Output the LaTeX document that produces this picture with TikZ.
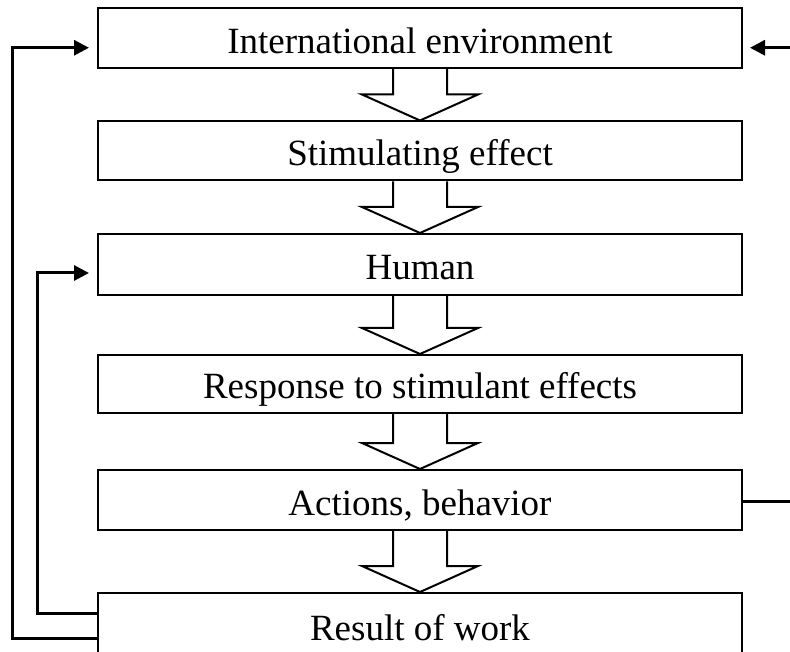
\documentclass[tikz,border=0pt]{standalone}
\usepackage{fontspec}
\setmainfont{Liberation Serif}
\usetikzlibrary{arrows.meta,calc}
\newcommand\myharrow[2]{%
  \draw[hollow] let \p1=(#1.south), \p2=(#2.north) in
  ({\x1-27pt},\y1) -- ({\x1-27pt},{\y2+26pt}) -- ({\x1-58pt},{\y2+26pt}) --
  (\x1,\y2) -- ({\x1+58pt},{\y2+26pt}) -- ({\x1+27pt},{\y2+26pt}) -- ({\x1+27pt},\y1);}
\begin{document}
\begin{tikzpicture}[x=1pt,y=-1pt,
  box/.style={draw, line width=2pt, minimum width=644pt, inner sep=0pt,
    text height=34pt, text depth=4pt, font=\fontsize{37pt}{44pt}\selectfont},
  fb/.style={line width=3pt},
  fbarrow/.style={fb, -{Triangle[length=15pt,width=15pt]}},
  hollow/.style={line width=2pt, line join=miter}]
\path[use as bounding box, clip] (0,0) rectangle (790,652);
\node[box, minimum height=59.5pt] (b1) at (420,38.25) {International environment};
\node[box, minimum height=59pt] (b2) at (420,151) {Stimulating effect};
\node[box, minimum height=61pt] (b3) at (420,264.5) {Human};
\node[box, minimum height=58pt] (b4) at (420,384) {Response to stimulant effects};
\node[box, minimum height=60pt] (b5) at (420,500) {Actions, behavior};
\node[box, minimum height=64pt] (b6) at (420,625) {Result of work};
\myharrow{b1}{b2}
\myharrow{b2}{b3}
\myharrow{b3}{b4}
\myharrow{b4}{b5}
\myharrow{b5}{b6}
\draw[fbarrow] ($(b6.west)+(0,13)$) -- ++(-85,0) |- ($(b1.west)+(-8,9.5)$);
\draw[fbarrow] ($(b6.west)+(0,-12)$) -- ++(-60,0) |- ($(b3.west)+(-8,8.5)$);
\coordinate (r1) at (790,47.75);
\coordinate (r2) at (790,501);
\draw[fbarrow] (r1) -- ($(b1.east |- r1)+(7,0)$);
\draw[fb] (b5.east |- r2) -- (r2);
\end{tikzpicture}
\end{document}
